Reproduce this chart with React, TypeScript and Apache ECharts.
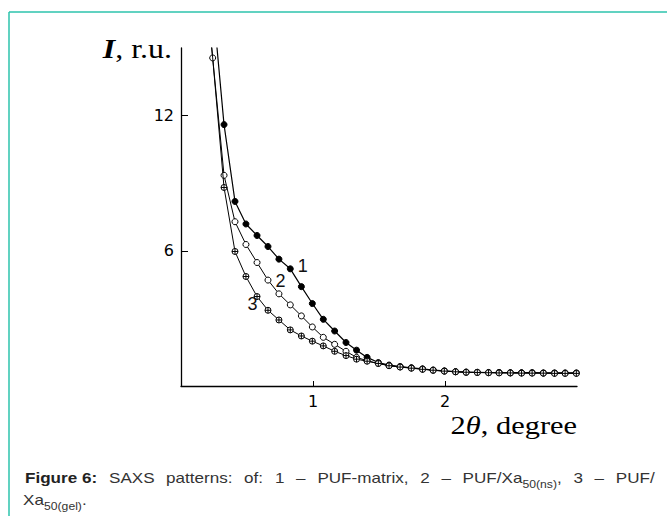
import React, { useEffect, useRef } from "react";
import * as echarts from "echarts";

// 2θ positions of the measured points (degree)
const twoTheta = [0.24, 0.326, 0.409, 0.492, 0.576, 0.659, 0.742, 0.828, 0.912, 0.995, 1.078, 1.164, 1.25, 1.33, 1.41, 1.495, 1.576, 1.66, 1.745, 1.83, 1.91, 1.995, 2.08, 2.16, 2.245, 2.33, 2.41, 2.495, 2.58, 2.66, 2.745, 2.83, 2.91, 2.995];
// 1 – PUF-matrix
const pufMatrix = [17.1, 11.6, 8.19, 7.19, 6.68, 6.19, 5.63, 5.2, 4.41, 3.66, 2.96, 2.44, 1.93, 1.59, 1.27, 1.04, 0.93, 0.86, 0.81, 0.76, 0.71, 0.67, 0.64, 0.62, 0.61, 0.6, 0.6, 0.59, 0.59, 0.59, 0.58, 0.58, 0.58, 0.58];
// 2 – PUF/Xa50(ns)
const pufXaNs = [14.56, 9.35, 7.29, 6.28, 5.48, 4.7, 4.09, 3.6, 3.11, 2.62, 2.16, 1.85, 1.54, 1.27, 1.12, 1.0, 0.91, 0.85, 0.8, 0.75, 0.7, 0.66, 0.63, 0.61, 0.6, 0.59, 0.59, 0.58, 0.58, 0.58, 0.57, 0.57, 0.57, 0.57];
// 3 – PUF/Xa50(gel)
const pufXaGel = [14.56, 8.81, 5.97, 4.86, 3.97, 3.36, 2.93, 2.49, 2.22, 1.99, 1.78, 1.54, 1.35, 1.19, 1.1, 1.0, 0.9, 0.84, 0.79, 0.74, 0.7, 0.66, 0.63, 0.61, 0.6, 0.59, 0.58, 0.58, 0.57, 0.57, 0.57, 0.56, 0.56, 0.56];
// curve continuation above the top of the y axis (no marker)
const leadIn = [0.2, 17.0];

const xTickValues = [1, 2];
const yTickValues = [6, 12];

const curveNames = ["1", "2", "3"];
const curveLabelIndex = [7, 5, 4];

const crossCircle =
  "path://M0,5A5,5,0,1,1,10,5A5,5,0,1,1,0,5Z M0,5L10,5 M5,0L5,10";

const SANS = "Liberation Sans, Arial, sans-serif";
const SERIF = "Liberation Serif, Times New Roman, serif";

function buildData(ys: number[], labelIdx: number, name: string, labelCfg: any, lead: boolean) {
  const d: any[] = ys.map((y, i) =>
    i === labelIdx
      ? { value: [twoTheta[i], y], label: { show: true, formatter: name, ...labelCfg } }
      : [twoTheta[i], y]
  );
  if (lead) d.unshift({ value: leadIn, symbol: "none" });
  return d;
}

export default function App() {
  const ref = useRef<HTMLDivElement>(null);
  useEffect(() => {
    if (!ref.current) return;
    const chart = echarts.init(ref.current, undefined, { renderer: "svg" });
    const labelFont = { fontSize: 18, fontFamily: SANS, color: "#111" };

    const captionY = 478;
    const SX = 1.22;
    const capFont = { fontSize: 14, fontFamily: SANS, fill: "#333" };
    const capPieces: [number, string, boolean][] = [
      [25, "Figure 6:", true],
      [109, "SAXS", false],
      [166, "patterns:", false],
      [244, "of:", false],
      [275, "1", false],
      [296, "–", false],
      [317.4, "PUF-matrix,", false],
      [420.2, "2", false],
      [441.4, "–", false],
      [462.6, "PUF/Xa", false],
      [557, ",", false],
      [573.4, "3", false],
      [594.6, "–", false],
      [615.8, "PUF/", false],
    ];
    const capTexts: any[] = capPieces.map(([x, t, b]) => ({
      type: "text",
      x,
      y: captionY,
      scaleX: SX,
      style: {
        text: t,
        ...capFont,
        fontWeight: b ? "bold" : "normal",
        fill: b ? "#222" : "#333",
        align: "left",
        verticalAlign: "middle",
      },
    }));
    capTexts.push(
      { type: "text", x: 522.4, y: captionY + 6, scaleX: SX, style: { text: "50(ns)", fontSize: 10, fontFamily: SANS, fill: "#333", align: "left", verticalAlign: "middle" } },
      { type: "text", x: 23, y: captionY + 22, scaleX: SX, style: { text: "Xa", ...capFont, align: "left", verticalAlign: "middle" } },
      { type: "text", x: 44, y: captionY + 28, scaleX: SX, style: { text: "50(gel)", fontSize: 10, fontFamily: SANS, fill: "#333", align: "left", verticalAlign: "middle" } },
      { type: "text", x: 82, y: captionY + 22, scaleX: SX, style: { text: ".", ...capFont, align: "left", verticalAlign: "middle" } }
    );

    chart.setOption({
      animation: false,
      backgroundColor: "#fff",
      grid: { left: 181, right: 90, top: 48, bottom: 130, containLabel: false },
      xAxis: {
        type: "value",
        min: 0,
        max: 3,
        interval: 1,
        axisLine: { show: true, onZero: false, lineStyle: { color: "#000", width: 1.3 } },
        axisTick: { show: true, inside: true, length: 5, customValues: xTickValues, lineStyle: { color: "#000", width: 1 } },
        axisLabel: { show: true, customValues: xTickValues, fontSize: 16, fontFamily: "DejaVu Sans", color: "#000", margin: 7 },
        splitLine: { show: false },
      },
      yAxis: {
        type: "value",
        min: 0,
        max: 15,
        interval: 3,
        axisLine: { show: true, onZero: false, lineStyle: { color: "#000", width: 1.3 } },
        axisTick: { show: true, inside: true, length: 7, customValues: yTickValues, lineStyle: { color: "#000", width: 1 } },
        axisLabel: { show: true, customValues: yTickValues, fontSize: 16, fontFamily: "DejaVu Sans", color: "#000", margin: 7 },
        splitLine: { show: false },
      },
      series: [
        {
          type: "line",
          name: "PUF-matrix",
          clip: true,
          data: buildData(pufMatrix, curveLabelIndex[0], curveNames[0], { ...labelFont, position: "right", distance: 4, offset: [0, -3] }, false),
          symbol: "circle",
          symbolSize: 6,
          showAllSymbol: true,
          lineStyle: { color: "#000", width: 1.2 },
          itemStyle: { color: "#000", borderColor: "#000", borderWidth: 1 },
          z: 2,
        },
        {
          type: "line",
          name: "PUF/Xa50(ns)",
          clip: true,
          data: buildData(pufXaNs, curveLabelIndex[1], curveNames[1], { ...labelFont, position: "right", distance: 4, offset: [0, 1] }, true),
          symbol: "circle",
          symbolSize: 6,
          showAllSymbol: true,
          lineStyle: { color: "#000", width: 1 },
          itemStyle: { color: "#fff", borderColor: "#000", borderWidth: 1 },
          z: 3,
        },
        {
          type: "line",
          name: "PUF/Xa50(gel)",
          clip: true,
          data: buildData(pufXaGel, curveLabelIndex[2], curveNames[2], { ...labelFont, position: "left", distance: 1, offset: [5, 7] }, true).map((d: any, i: number) =>
            i === 1 ? { value: Array.isArray(d) ? d : d.value, symbol: "none" } : d
          ),
          symbol: crossCircle,
          symbolSize: 6,
          showAllSymbol: true,
          lineStyle: { color: "#000", width: 1 },
          itemStyle: { color: "#fff", borderColor: "#000", borderWidth: 1 },
          z: 4,
        },
      ],
      graphic: [
        { type: "line", shape: { x1: 9, y1: 12, x2: 667, y2: 12 }, style: { stroke: "#2cc3ad", lineWidth: 1.5 } },
        { type: "line", shape: { x1: 9, y1: 12, x2: 9, y2: 516 }, style: { stroke: "#2cc3ad", lineWidth: 1.5 } },
        {
          type: "text",
          x: 172,
          y: 48,
          scaleX: 1.14,
          style: {
            text: "{i|I}{n|, r.u.}",
            align: "right",
            verticalAlign: "middle",
            fill: "#000",
            rich: {
              i: { fontFamily: SERIF, fontSize: 28, fontStyle: "italic", fontWeight: "bold", fill: "#000" },
              n: { fontFamily: SERIF, fontSize: 28, fill: "#000" },
            },
          },
        },
        {
          type: "text",
          x: 577,
          y: 425,
          scaleX: 1.17,
          style: {
            text: "{n|2}{i|θ}{n|, degree}",
            align: "right",
            verticalAlign: "middle",
            fill: "#000",
            rich: {
              i: { fontFamily: SERIF, fontSize: 26, fontStyle: "italic", fill: "#000" },
              n: { fontFamily: SERIF, fontSize: 26, fill: "#000" },
            },
          },
        },
        ...capTexts,
      ],
    });
    return () => chart.dispose();
  }, []);
  return (
    <div
      ref={ref}
      style={{ position: "absolute", left: 0, top: 0, width: 667, height: 516, background: "#fff" }}
    />
  );
}
